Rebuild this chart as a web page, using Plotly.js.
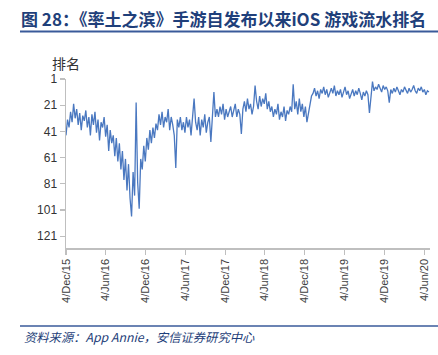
<!DOCTYPE html>
<html>
<head>
<meta charset="utf-8">
<script src="https://cdn.plot.ly/plotly-3.0.1.min.js"></script>
<style>
html,body{margin:0;padding:0;background:#fff;}
#chart{width:438px;height:355px;}
</style>
</head>
<body>
<div id="chart"></div>
<script>
// Weekly samples of the daily iOS grossing rank, starting 2015-12-04
var startDate = '2015-12-04';
var stepDays = 7;
var rankValues = [
  44, 32, 38, 26, 34, 20, 31, 24, 36, 27,
  40, 29, 33, 25, 38, 30, 44, 28, 36, 26,
  42, 32, 48, 34, 38, 30, 45, 36, 56, 40,
  50, 44, 60, 46, 64, 50, 70, 56, 78, 62,
  86, 66, 92, 106, 72, 90, 19, 80, 100, 62,
  70, 52, 64, 46, 55, 40, 50, 38, 46, 35,
  40, 28, 36, 26, 38, 30, 34, 24, 40, 30,
  36, 44, 69, 32, 38, 30, 40, 34, 42, 30,
  38, 32, 44, 28, 16, 34, 40, 30, 44, 32,
  38, 28, 42, 34, 30, 49, 28, 11, 30, 24,
  30, 22, 28, 20, 32, 24, 30, 26, 22, 30,
  26, 20, 30, 24, 28, 43, 24, 18, 26, 16,
  24, 20, 28, 22, 6, 18, 24, 14, 22, 16,
  20, 12, 24, 18, 26, 22, 30, 24, 28, 20,
  32, 26, 30, 22, 33, 25, 28, 22, 26, 5,
  24, 18, 28, 16, 26, 20, 30, 22, 34, 28,
  20, 14, 12, 8, 14, 10, 16, 9, 12, 7,
  13, 9, 15, 11, 8, 12, 6, 14, 10, 13,
  9, 15, 11, 7, 13, 10, 16, 12, 9, 14,
  10, 13, 8, 12, 17, 11, 14, 10, 13, 27,
  12, 3, 10, 7, 9, 5, 8, 11, 6, 9,
  7, 10, 19, 9, 12, 8, 11, 7, 10, 13,
  9, 11, 7, 10, 12, 8, 11, 9, 6, 10,
  12, 8, 10, 7, 11, 9, 13, 10, 11
];
var tickDates = ['2015-12-04','2016-06-04','2016-12-04','2017-06-04','2017-12-04',
                 '2018-06-04','2018-12-04','2019-06-04','2019-12-04','2020-06-04'];
var tickLabels = ['4/Dec/15','4/Jun/16','4/Dec/16','4/Jun/17','4/Dec/17',
                  '4/Jun/18','4/Dec/18','4/Jun/19','4/Dec/19','4/Jun/20'];
var yTicks = [1, 21, 41, 61, 81, 101, 121];

function isoDate(d){
  var m = d.getUTCMonth()+1, day = d.getUTCDate();
  return d.getUTCFullYear()+'-'+(m<10?'0':'')+m+'-'+(day<10?'0':'')+day;
}
var dates = [];
var t0 = new Date(startDate+'T00:00:00Z').getTime();
for (var i=0;i<rankValues.length;i++){
  dates.push(isoDate(new Date(t0 + i*stepDays*86400000)));
}

var trace = {
  x: dates, y: rankValues, type:'scatter', mode:'lines',
  line:{color:'#4a78c0', width:1.3}, hoverinfo:'skip'
};

var navy = '#1f3f7a';
var layout = {
  width:438, height:355,
  margin:{l:66, r:8, t:79, b:107},
  paper_bgcolor:'#fff', plot_bgcolor:'#fff',
  showlegend:false,
  title:{
    text:'图 28：《率土之滨》手游自发布以来iOS 游戏流水排名',
    font:{family:'"Noto Sans CJK SC", "Liberation Sans", Arial, sans-serif', size:17, color:navy, weight:'bold'},
    x:21/438, xanchor:'left', xref:'container',
    y:1-20.5/355, yanchor:'middle', yref:'container'
  },
  xaxis:{
    type:'date',
    range:['2015-12-04','2020-07-01'],
    tickvals:tickDates, ticktext:tickLabels,
    tickangle:-90,
    tickfont:{family:'"Liberation Sans", Arial, sans-serif', size:11, color:'#404040'},
    showgrid:false, zeroline:false,
    showline:true, linecolor:'#bfbfbf', linewidth:1.5,
    ticks:'outside', ticklen:5, tickcolor:'#bfbfbf', tickwidth:1.2
  },
  yaxis:{
    range:[130, 1],
    tickvals:yTicks,
    ticktext:yTicks.map(String),
    tickfont:{family:'"Liberation Sans", Arial, sans-serif', size:12, color:'#333'},
    showgrid:false, zeroline:false,
    showline:true, linecolor:'#bfbfbf', linewidth:1.5,
    ticks:'outside', ticklen:5, tickcolor:'#bfbfbf', tickwidth:1.2
  },
  shapes:[
    {type:'line', xref:'paper', yref:'paper', x0:(20-66)/364, x1:(438-66)/364,
     y0:(248-31.5)/169, y1:(248-31.5)/169, line:{color:'#3a5a9a', width:2}},
    {type:'line', xref:'paper', yref:'paper', x0:(20-66)/364, x1:(438-66)/364,
     y0:(248-326)/169, y1:(248-326)/169, line:{color:'#3a5a9a', width:1.5}}
  ],
  annotations:[
    {text:'排名', xref:'paper', yref:'paper', x:0, y:(248-63)/169,
     xanchor:'center', yanchor:'middle', showarrow:false,
     font:{family:'"Noto Sans CJK SC", sans-serif', size:14, color:'#333'}},
    {text:'<i>资料来源：App Annie，安信证券研究中心</i>', xref:'paper', yref:'paper',
     x:(22-66)/364, y:(248-336.5)/169, xanchor:'left', yanchor:'middle', showarrow:false,
     font:{family:'"Noto Sans CJK SC", "Liberation Sans", Arial, sans-serif', size:12.3, color:navy}}
  ]
};

Plotly.newPlot('chart', [trace], layout, {displayModeBar:false, staticPlot:true});
</script>
</body>
</html>
